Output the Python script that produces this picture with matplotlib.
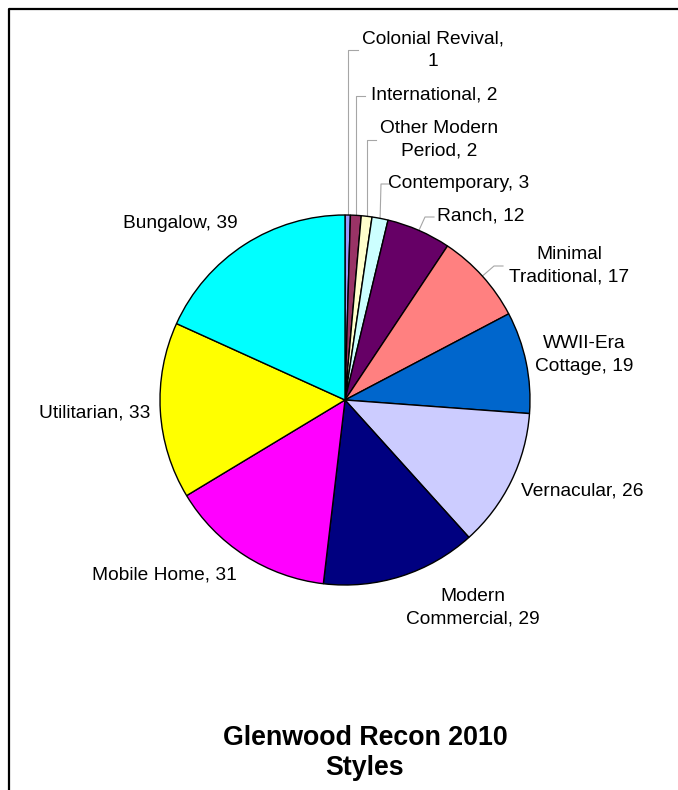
import numpy as np
import matplotlib
matplotlib.use('Agg')
import matplotlib.pyplot as plt

# dados
styles = ['Colonial Revival', 'International', 'Other Modern Period', 'Contemporary',
          'Ranch', 'Minimal Traditional', 'WWII-Era Cottage', 'Vernacular',
          'Modern Commercial', 'Mobile Home', 'Utilitarian', 'Bungalow']
counts = [1, 2, 2, 3, 12, 17, 19, 26, 29, 31, 33, 39]
labels = ['Colonial Revival,\n1', 'International, 2', 'Other Modern\nPeriod, 2',
          'Contemporary, 3', 'Ranch, 12', 'Minimal\nTraditional, 17',
          'WWII-Era\nCottage, 19', 'Vernacular, 26', 'Modern\nCommercial, 29',
          'Mobile Home, 31', 'Utilitarian, 33', 'Bungalow, 39']
colors = ['#9999FF', '#993366', '#FFFFCC', '#CCFFFF', '#660066', '#FF8080',
          '#0066CC', '#CCCCFF', '#000080', '#FF00FF', '#FFFF00', '#00FFFF']

W, H = 678, 790
cx, cy, R = 345, 400, 185

# posição dos rótulos (pixels, y para baixo)
label_pos = [(433, 50), (434, 95), (439, 140), (459, 184), (481, 216), (569, 266),
             (584, 355), (582, 491), (473, 608), (164, 575), (95, 413), (180, 224)]
# linhas de chamada: (y do cotovelo, x final) ou None
leaders = [(50, 358), (96, 365), (140, 376), (184, 390), (217, 434), (266, 503),
           None, None, None, None, None, None]

fig = plt.figure(figsize=(W / 100, H / 100), dpi=100)
ax = fig.add_axes([0, 0, 1, 1])

ax.pie(counts, colors=colors, startangle=90, counterclock=False,
       center=(cx, H - cy), radius=R, frame=True,
       wedgeprops=dict(edgecolor='black', linewidth=1.0))
ax.set_xlim(0, W)
ax.set_ylim(0, H)
ax.set_aspect('equal')
ax.axis('off')

fonte = ['Liberation Sans', 'DejaVu Sans']
total = float(sum(counts))
cum = np.cumsum([0] + counts)
for i, lab in enumerate(labels):
    tx, ty = label_pos[i]
    ax.text(tx, H - ty, lab, ha='center', va='center', fontsize=13.8,
            family=fonte, linespacing=1.45)
    if leaders[i] is not None:
        ang = np.deg2rad((cum[i] + counts[i] / 2) / total * 360)
        ax_x = cx + R * np.sin(ang)
        ax_y = cy - R * np.cos(ang)
        ey, ex = leaders[i]
        if i < 3:
            ebx = ax_x
        else:
            ebx = ex - 9
        ax.plot([ax_x, ebx, ex], [H - ax_y, H - ey, H - ey],
                color='#A6A6A6', linewidth=0.8, zorder=0)

ax.text(365, H - 753, 'Glenwood Recon 2010\nStyles', ha='center', va='center',
        fontsize=19.3, fontweight='bold', family=fonte, linespacing=1.2)

# moldura (cortada à direita e embaixo)
ax.plot([9, 9, W + 5], [-5, H - 9, H - 9], color='black', linewidth=1.6,
        clip_on=False)

fig.savefig('out.png', dpi=100)
plt.close(fig)
